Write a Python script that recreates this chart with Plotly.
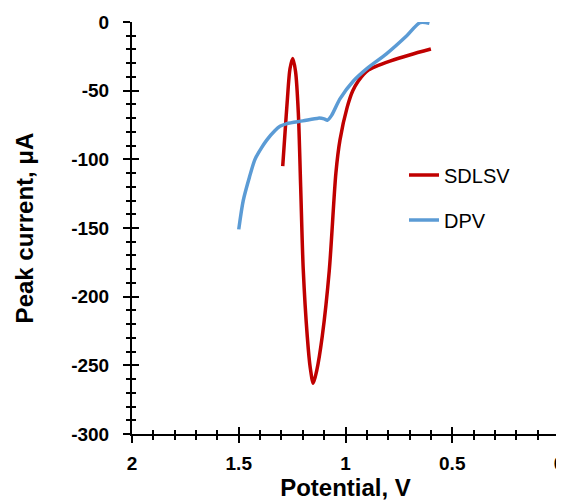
import plotly.graph_objects as go

# ---- data ----
sdlsv_potential = [1.294, 1.283, 1.273, 1.260, 1.247, 1.234, 1.221, 1.210, 1.198, 1.179,
                   1.165, 1.151, 1.135, 1.109, 1.076, 1.045, 1.026, 0.992, 0.966, 0.940,
                   0.915, 0.893, 0.860, 0.792, 0.700, 0.600]
sdlsv_current = [-105, -80, -58, -34, -26.5, -36, -66, -120, -180, -229,
                 -252, -263, -254, -229, -181, -110, -86, -62, -50, -43,
                 -38, -35, -32.5, -28.5, -24, -19.7]

dpv_potential = [1.500, 1.479, 1.450, 1.424, 1.395, 1.369, 1.330, 1.307, 1.275, 1.200,
                 1.127, 1.100, 1.085, 1.065, 1.026, 0.963, 0.900, 0.807, 0.713, 0.651,
                 0.607]
dpv_current = [-151, -130, -113, -100, -92, -86, -79, -76, -74, -72,
               -70, -70.5, -71.5, -68, -56, -43, -34, -23, -10, -0.5,
               -1]

series_names = ["SDLSV", "DPV"]
series_colors = ["#C00000", "#5B9BD5"]

x_tick_vals = [2, 1.5, 1, 0.5, 0]
x_tick_text = ["2", "1.5", "1", "0.5", "0"]
y_tick_vals = [0, -50, -100, -150, -200, -250, -300]
y_tick_text = ["0", "-50", "-100", "-150", "-200", "-250", "-300"]

x_title = "Potential, V"
y_title = "Peak current, \u03bcA"
x_range = [2, 0]
y_range = [-300, 0]

FONT = "Liberation Sans, Arial, sans-serif"

fig = go.Figure()
fig.add_trace(go.Scatter(x=sdlsv_potential, y=sdlsv_current, mode="lines",
                         name=series_names[0], legendgroup="a",
                         line=dict(color=series_colors[0], width=3.5, shape="spline", smoothing=0.8)))
fig.add_trace(go.Scatter(x=dpv_potential, y=dpv_current, mode="lines",
                         name=series_names[1], legendgroup="b",
                         line=dict(color=series_colors[1], width=3.5, shape="spline", smoothing=0.8)))

# invisible trace on the overlay axes so they render (gives ticks crossing the axis line)
fig.add_trace(go.Scatter(x=[None], y=[None], xaxis="x2", yaxis="y2", showlegend=False, hoverinfo="skip"))

common_axis = dict(showgrid=False, zeroline=False, showline=True, linecolor="black",
                   linewidth=2, tickcolor="black", tickwidth=2, ticklen=7)

fig.update_layout(
    width=556, height=496,
    paper_bgcolor="white", plot_bgcolor="white",
    margin=dict(l=124, r=5, t=14, b=70, autoexpand=False),
    font=dict(family=FONT, color="black"),
    showlegend=True,
    legend=dict(x=0.637, y=0.676, xanchor="left", yanchor="top",
                font=dict(family=FONT, size=20, color="black"),
                tracegroupgap=16, traceorder="grouped",
                bgcolor="rgba(0,0,0,0)", itemwidth=30),
    xaxis=dict(range=x_range, tickvals=x_tick_vals, ticktext=x_tick_text, ticks="outside",
               tickfont=dict(family=FONT, size=19, color="black", weight="bold"),
               ticklabelstandoff=4, ticklabeloverflow="allow",
               minor=dict(dtick=0.1, ticks="outside", ticklen=4, tickwidth=1.5, tickcolor="black"),
               title=dict(text=x_title, font=dict(family=FONT, size=24, color="black", weight="bold"),
                          standoff=6),
               **common_axis),
    yaxis=dict(range=y_range, tickvals=y_tick_vals, ticktext=y_tick_text, ticks="outside",
               tickfont=dict(family=FONT, size=19, color="black", weight="bold"),
               ticklabelstandoff=10, ticklabeloverflow="allow",
               minor=dict(dtick=10, ticks="outside", ticklen=4, tickwidth=1.5, tickcolor="black"),
               title=dict(text=y_title, font=dict(family=FONT, size=24, color="black", weight="bold"),
                          standoff=31),
               **common_axis),
    xaxis2=dict(range=x_range, overlaying="x", anchor="y", side="bottom", tickvals=x_tick_vals,
                ticks="inside", showticklabels=False,
                minor=dict(dtick=0.1, ticks="inside", ticklen=4, tickwidth=1.5, tickcolor="black"),
                **common_axis),
    yaxis2=dict(range=y_range, overlaying="y", anchor="x", side="left", tickvals=y_tick_vals,
                ticks="inside", showticklabels=False,
                minor=dict(dtick=10, ticks="inside", ticklen=4, tickwidth=1.5, tickcolor="black"),
                **common_axis),
)

fig.write_html("out.html")
